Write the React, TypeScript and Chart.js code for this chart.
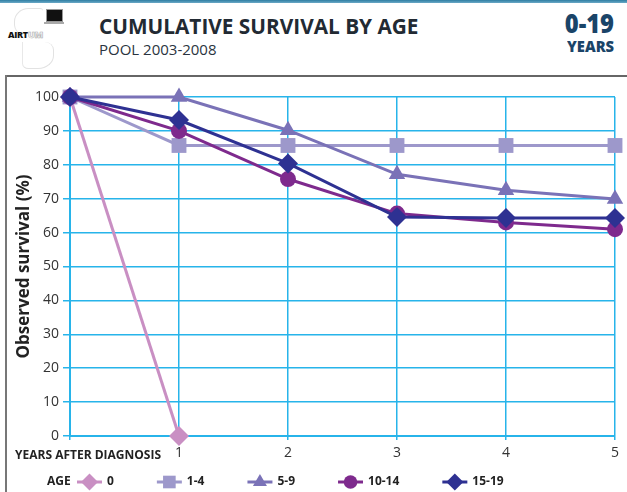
import React, { useEffect, useRef } from "react";
import { Chart, registerables } from "chart.js";
import { drawPoint } from "chart.js/helpers";

Chart.register(...registerables);

const years = [0, 1, 2, 3, 4, 5];
const ageGroups = ["0", "1-4", "5-9", "10-14", "15-19"];
const age0 = [100, 0];
const age1to4 = [100, 85.7, 85.7, 85.7, 85.7, 85.7];
const age5to9 = [100, 100, 90.2, 77.2, 72.5, 69.9];
const age10to14 = [100, 90, 75.8, 65.6, 63, 61];
const age15to19 = [100, 93.2, 80.4, 64.6, 64.3, 64.3];
const yTicks = [0, 10, 20, 30, 40, 50, 60, 70, 80, 90, 100];

const seriesValues = [age0, age1to4, age5to9, age10to14, age15to19];
const colors = ["#c98fc3", "#9d98cb", "#7a72b7", "#7e2a8d", "#2e3192"];
const pointStyles = ["rectRot", "rect", "triangle", "circle", "rectRot"];
const radii = [10, 10.5, 9.5, 8, 10];
const orders = [4, 3, 2, 1, 0];

const GRID = "#27b4ea";

const customText = {
  id: "customText",
  afterDraw(chart: any) {
    const ctx = chart.ctx;
    ctx.save();
    ctx.fillStyle = "#222";
    ctx.textBaseline = "middle";
    ctx.textAlign = "left";
    ctx.font = 'bold 12px "Open Sans"';
    ctx.fillText("YEARS AFTER DIAGNOSIS", 15, 456);
    ctx.fillText("AGE", 47, 482);
    let x = 77;
    const y = 482;
    chart.data.datasets.forEach((ds: any) => {
      ctx.strokeStyle = ds.borderColor;
      ctx.lineWidth = 3;
      ctx.beginPath();
      ctx.moveTo(x, y);
      ctx.lineTo(x + 25, y);
      ctx.stroke();
      ctx.fillStyle = ds.backgroundColor;
      drawPoint(ctx, { pointStyle: ds.pointStyle, radius: ds.pointRadius * 0.85, borderWidth: 0, rotation: 0 }, x + 12.5, y);
      ctx.fillStyle = "#222";
      ctx.font = 'bold 12px "Open Sans"';
      ctx.fillText(ds.label, x + 30, y);
      x += 30 + ctx.measureText(ds.label).width + 43;
    });
    ctx.restore();
  },
};

function App() {
  const ref = useRef<HTMLCanvasElement>(null);
  useEffect(() => {
    const chart = new Chart(ref.current as HTMLCanvasElement, {
      type: "line",
      data: {
        datasets: seriesValues.map((vals, i) => ({
          label: ageGroups[i],
          data: vals.map((v, j) => ({ x: years[j], y: v })),
          borderColor: colors[i],
          backgroundColor: colors[i],
          pointBackgroundColor: colors[i],
          pointBorderColor: colors[i],
          pointBorderWidth: 0,
          pointStyle: pointStyles[i],
          pointRadius: radii[i],
          pointHoverRadius: radii[i],
          borderWidth: 3,
          tension: 0,
          order: orders[i],
          clip: false as any,
        })),
      },
      options: {
        animation: false,
        responsive: false,
        maintainAspectRatio: false,
        layout: { padding: { top: 97, right: 12, left: 0, bottom: 0 } },
        plugins: { legend: { display: false }, tooltip: { enabled: false } },
        scales: {
          x: {
            type: "linear",
            min: 0,
            max: 5,
            afterFit: (s: any) => {
              s.height = 56;
            },
            afterBuildTicks: (s: any) => {
              s.ticks = years.map((v) => ({ value: v }));
            },
            ticks: {
              stepSize: 1,
              color: "#333",
              font: { family: "Open Sans", size: 14 },
              padding: 5,
              callback: (v: any) => (v === 0 ? "" : String(v)),
            },
            grid: { color: GRID, lineWidth: 1.5, tickLength: 4 },
            border: { color: GRID, width: 2 },
          },
          y: {
            type: "linear",
            min: 0,
            max: 100,
            afterFit: (s: any) => {
              s.width = 70;
            },
            afterBuildTicks: (s: any) => {
              s.ticks = yTicks.map((v) => ({ value: v }));
            },
            ticks: {
              stepSize: 10,
              color: "#333",
              font: { family: "Open Sans", size: 14 },
              padding: 4,
            },
            grid: { color: GRID, lineWidth: 1.5, tickLength: 7 },
            border: { color: GRID, width: 2 },
            title: {
              display: true,
              text: "Observed survival (%)",
              color: "#222",
              font: { family: "Open Sans", size: 17, weight: "bold" },
              padding: { top: 14, bottom: 0 },
            },
          },
        },
      },
      plugins: [customText],
    });
    return () => chart.destroy();
  }, []);

  return (
    <div style={{ position: "fixed", left: 0, top: 0, width: 627, height: 492, background: "#fff", overflow: "hidden", fontFamily: '"Open Sans", sans-serif' }}>
      <div style={{ position: "absolute", left: 0, top: 0, width: 627, height: 3, background: "linear-gradient(#2f7ea3, #6aa9c6)" }} />
      {/* logo */}
      <div style={{ position: "absolute", left: 14, top: 8, width: 28, height: 26, borderTop: "1px solid #e2e2e2", borderLeft: "1px solid #e2e2e2", borderRadius: "50% 10% 0 40%" }} />
      <div style={{ position: "absolute", left: 22, top: 42, width: 30, height: 26, borderRight: "1px solid #e2e2e2", borderBottom: "1px solid #e2e2e2", borderLeft: "1px solid #e8e8e8", borderRadius: "0 30% 50% 20%" }} />
      <div style={{ position: "absolute", left: 46, top: 9, width: 15, height: 11, background: "#111", border: "1px solid #999" }} />
      <div style={{ position: "absolute", left: 44, top: 22, width: 20, height: 2, background: "#aaa" }} />
      <div style={{ position: "absolute", left: 8, top: 29, fontSize: 9, fontWeight: 800, letterSpacing: -0.3, color: "#111", lineHeight: "12px" }}>
        AIRT<span style={{ color: "#fff", WebkitTextStroke: "0.6px #aaa" }}>UM</span>
      </div>
      <div style={{ position: "absolute", left: 99, top: 12, fontSize: 21, fontWeight: 700, color: "#222a33", lineHeight: "28px", whiteSpace: "nowrap", transform: "scaleX(0.99)", transformOrigin: "left" }}>
        CUMULATIVE SURVIVAL BY AGE
      </div>
      <div style={{ position: "absolute", left: 99, top: 39, fontSize: 15, color: "#2a3440", lineHeight: "20px", whiteSpace: "nowrap" }}>
        POOL 2003-2008
      </div>
      <div style={{ position: "absolute", right: 13, top: 7, fontSize: 27, fontWeight: 800, color: "#1a4468", lineHeight: "32px", textAlign: "right", transform: "scaleX(0.88)", transformOrigin: "right" }}>
        0-19
      </div>
      <div style={{ position: "absolute", right: 13, top: 37, fontSize: 16, fontWeight: 800, color: "#1a4468", lineHeight: "18px", textAlign: "right", transform: "scaleX(0.92)", transformOrigin: "right" }}>
        YEARS
      </div>
      {/* frame */}
      <div style={{ position: "absolute", left: 5, top: 75, width: 622, height: 2, background: "#666" }} />
      <div style={{ position: "absolute", left: 5, top: 75, width: 2, height: 417, background: "#777" }} />
      <canvas ref={ref} width={627} height={492} style={{ position: "absolute", left: 0, top: 0, width: 627, height: 492 }} />
    </div>
  );
}

export default App;
